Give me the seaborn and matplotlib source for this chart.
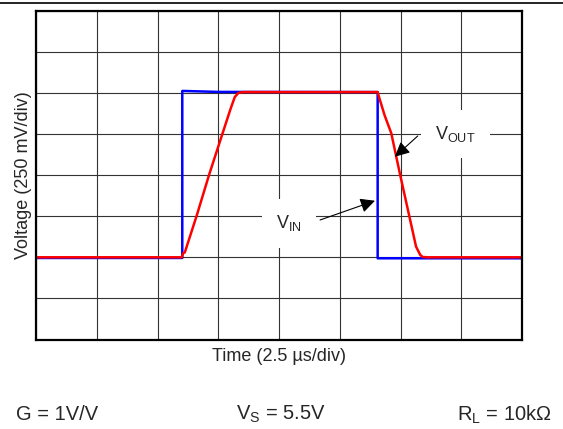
import matplotlib
matplotlib.use("Agg")
import numpy as np
import pandas as pd
import matplotlib.pyplot as plt
import seaborn as sns
from matplotlib.lines import Line2D

# ---- data (time in microseconds, voltage in mV relative to the baseline) ----
vin_time_us = [0.0, 6.02, 6.02, 7.5, 14.06, 14.06, 20.0]
vin_mv = [-4, -4, 1012, 1006, 1005, -6, -6]

vout_time_us = [0.0, 6.0, 6.06, 6.125, 6.61, 7.13, 7.68, 8.0, 8.18, 8.33, 8.55,
                14.06, 14.13, 14.35, 14.62, 14.98, 15.36, 15.64, 15.81, 15.91, 16.13, 20.0]
vout_mv = [0, 0, 25, 30, 252, 505, 755, 900, 975, 1000, 1005,
           1005, 968, 862, 755, 505, 252, 65, 15, 2, 0, 0]

signal_names = ["VIN", "VOUT"]
signal_colors = {"VIN": "#0000FF", "VOUT": "#FF0000"}

x_label = "Time (2.5 µs/div)"
y_label = "Voltage (250 mV/div)"
cond_labels = ["G = 1V/V", r"V$_\mathrm{S}$ = 5.5V", r"R$_\mathrm{L}$ = 10kΩ"]

x_div_us = 2.5
y_div_mv = 250
x_range = (0, 20)
y_range = (-500, 1500)

# ---- build table ----
df = pd.concat([
    pd.DataFrame({"t": vin_time_us, "v": vin_mv, "signal": "VIN"}),
    pd.DataFrame({"t": vout_time_us, "v": vout_mv, "signal": "VOUT"}),
], ignore_index=True)

sns.set_style("white")
plt.rcParams["font.family"] = ["Liberation Sans", "DejaVu Sans"]
plt.rcParams["mathtext.fontset"] = "custom"
plt.rcParams["mathtext.rm"] = "Liberation Sans"
plt.rcParams["mathtext.it"] = "Liberation Sans:italic"
plt.rcParams["mathtext.bf"] = "Liberation Sans:bold"

fig = plt.figure(figsize=(5.63, 4.29), dpi=100)
W, H = 563, 429
ax = fig.add_axes([36 / W, (H - 339.5) / H, 486 / W, 328.8 / H])

sns.lineplot(data=df, x="t", y="v", hue="signal", hue_order=signal_names,
             palette=signal_colors, estimator=None, sort=False, units="signal",
             linewidth=1.8, legend=False, ax=ax)

ax.set_xlim(*x_range)
ax.set_ylim(*y_range)
ax.set_xticks(np.arange(x_range[0], x_range[1] + 0.01, x_div_us))
ax.set_yticks(np.arange(y_range[0], y_range[1] + 0.01, y_div_mv))
ax.set_xticklabels([])
ax.set_yticklabels([])
ax.tick_params(length=0)
ax.set_axisbelow(True)
ax.grid(True, color="#333333", linewidth=0.8)
for s in ax.spines.values():
    s.set_visible(True)
    s.set_color("black")
    s.set_linewidth(1.6)

ax.set_xlabel(x_label, fontsize=13)
ax.set_ylabel(y_label, fontsize=13)
ax.xaxis.set_label_coords(0.5, -0.025)
ax.yaxis.set_label_coords(-0.008, 0.5)

# annotations
box = dict(boxstyle="square,pad=0.8", fc="white", ec="none")
ax.text(17.26, 750, r"V$_\mathrm{OUT}$", fontsize=13, ha="center", va="center",
        bbox=box, zorder=4)
ax.text(10.41, 208, r"V$_\mathrm{IN}$", fontsize=13, ha="center", va="center",
        bbox=box, zorder=4)
arrow = dict(arrowstyle="-|>", color="black", lw=0.8, mutation_scale=22,
             shrinkA=0, shrinkB=0)
ax.annotate("", xy=(14.77, 612), xytext=(15.71, 738), arrowprops=arrow, zorder=5)
ax.annotate("", xy=(13.95, 344), xytext=(11.69, 227), arrowprops=arrow, zorder=5)

# header rule
fig.add_artist(Line2D([0, 1], [1 - 2.5 / H, 1 - 2.5 / H], color="black",
                      linewidth=1.2, transform=fig.transFigure))

# test conditions
fy = 1 - 414.5 / H
fig.text(16 / W, fy, cond_labels[0], fontsize=14.5, ha="left", va="center")
fig.text(281 / W, fy, cond_labels[1], fontsize=14.5, ha="center", va="center")
fig.text(552 / W, fy, cond_labels[2], fontsize=14.5, ha="right", va="center")

fig.savefig("out.png", dpi=100)
